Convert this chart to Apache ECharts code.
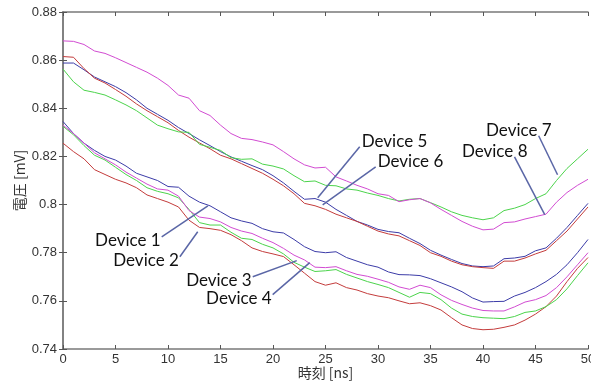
<!DOCTYPE html>
<html>
<head>
<meta charset="utf-8">
<script src="https://cdn.jsdelivr.net/npm/echarts@6/dist/echarts.min.js"></script>
<style>
  html, body { margin: 0; padding: 0; background: #fff; }
  #chart { width: 591px; height: 382px; }
</style>
</head>
<body>
<div id="chart"></div>
<script>
// time axis [ns], one reading per ns
const timeNs = [
  0, 1, 2, 3, 4, 5, 6, 7, 8, 9, 10, 11, 12, 13, 14, 15, 16, 17, 18, 19, 20,
  21, 22, 23, 24, 25, 26, 27, 28, 29, 30, 31, 32, 33, 34, 35, 36, 37, 38, 39, 40,
  41, 42, 43, 44, 45, 46, 47, 48, 49, 50
];

// lower group
const device1 = [
  0.8345, 0.8295, 0.8255, 0.8225, 0.820, 0.8185, 0.816, 0.813, 0.8115, 0.810, 0.8075,
  0.8072, 0.8035, 0.801, 0.7995, 0.797, 0.7945, 0.7932, 0.7922, 0.790, 0.7887,
  0.7882, 0.7855, 0.7825, 0.7805, 0.780, 0.7804, 0.778, 0.7765, 0.775, 0.774,
  0.772, 0.7709, 0.7708, 0.7705, 0.7692, 0.7675, 0.7658, 0.7638, 0.7612, 0.7595,
  0.7597, 0.7598, 0.762, 0.7635, 0.7655, 0.768, 0.771, 0.775, 0.780, 0.7855
];
const device2 = [
  0.8255, 0.822, 0.819, 0.8145, 0.8125, 0.8105, 0.809, 0.807, 0.804, 0.8025, 0.801,
  0.799, 0.7935, 0.7905, 0.790, 0.7893, 0.7875, 0.785, 0.782, 0.7805, 0.7795,
  0.7784, 0.775, 0.7715, 0.768, 0.7665, 0.7675, 0.7655, 0.7645, 0.763, 0.762,
  0.7613, 0.760, 0.7588, 0.7592, 0.758, 0.7562, 0.753, 0.750, 0.7485, 0.748,
  0.7482, 0.749, 0.750, 0.752, 0.7545, 0.7576, 0.762, 0.768, 0.7735, 0.778
];
const device3 = [
  0.8325, 0.829, 0.8245, 0.8205, 0.8185, 0.8155, 0.8125, 0.810, 0.807, 0.8055, 0.8045,
  0.8028, 0.798, 0.7925, 0.7915, 0.7915, 0.7885, 0.786, 0.7855, 0.7835, 0.782,
  0.7795, 0.776, 0.774, 0.7722, 0.7725, 0.773, 0.771, 0.7695, 0.768, 0.7668,
  0.7655, 0.7635, 0.7615, 0.7635, 0.763, 0.7605, 0.757, 0.7545, 0.7535, 0.753,
  0.7528, 0.7526, 0.7535, 0.7552, 0.7558, 0.7576, 0.7605, 0.765, 0.7705, 0.7758
];
const device4 = [
  0.833, 0.8295, 0.8255, 0.8215, 0.819, 0.8165, 0.8135, 0.811, 0.8085, 0.8065, 0.806,
  0.8035, 0.7975, 0.7948, 0.7942, 0.7928, 0.7905, 0.789, 0.788, 0.786, 0.7842,
  0.7818, 0.779, 0.777, 0.774, 0.7738, 0.7742, 0.7725, 0.771, 0.7702, 0.769,
  0.7677, 0.7658, 0.7648, 0.7665, 0.7655, 0.7625, 0.7602, 0.7585, 0.757, 0.756,
  0.7558, 0.7558, 0.7575, 0.7595, 0.7605, 0.7622, 0.7655, 0.770, 0.775, 0.780
];
// upper group
const device5 = [
  0.8588, 0.8588, 0.856, 0.853, 0.851, 0.849, 0.8465, 0.8435, 0.840, 0.8375, 0.835,
  0.832, 0.8295, 0.8269, 0.8245, 0.822, 0.8198, 0.818, 0.8162, 0.8145, 0.812,
  0.809, 0.8055, 0.8022, 0.8025, 0.801, 0.798, 0.7955, 0.793, 0.7915, 0.7897,
  0.7888, 0.7883, 0.786, 0.7838, 0.781, 0.779, 0.7772, 0.7755, 0.7745, 0.7742,
  0.7745, 0.7775, 0.7778, 0.7785, 0.7808, 0.782, 0.786, 0.7905, 0.7955, 0.8005
];
const device6 = [
  0.8615, 0.8612, 0.8565, 0.8525, 0.8505, 0.8478, 0.845, 0.8418, 0.839, 0.8365, 0.834,
  0.8308, 0.828, 0.8256, 0.8232, 0.8205, 0.819, 0.817, 0.815, 0.813, 0.8105,
  0.8078, 0.8045, 0.8005, 0.7995, 0.798, 0.796, 0.7945, 0.793, 0.791, 0.789,
  0.7878, 0.787, 0.785, 0.783, 0.780, 0.7785, 0.7765, 0.775, 0.7742, 0.7738,
  0.7735, 0.7765, 0.7765, 0.7778, 0.7795, 0.781, 0.785, 0.789, 0.794, 0.799
];
const device7 = [
  0.8563, 0.851, 0.8475, 0.8466, 0.8455, 0.8435, 0.8414, 0.839, 0.836, 0.833, 0.8315,
  0.8302, 0.830, 0.825, 0.8238, 0.8225, 0.8195, 0.8188, 0.819, 0.8168, 0.816,
  0.8148, 0.812, 0.8095, 0.8098, 0.808, 0.8078, 0.8065, 0.806, 0.8048, 0.8038,
  0.8025, 0.8015, 0.8022, 0.8025, 0.8008, 0.799, 0.797, 0.7955, 0.7945, 0.7937,
  0.7945, 0.7975, 0.7985, 0.800, 0.8025, 0.8045, 0.810, 0.815, 0.819, 0.823
];
const device8 = [
  0.868, 0.8678, 0.8665, 0.8638, 0.8628, 0.861, 0.859, 0.857, 0.855, 0.8525, 0.8495,
  0.8455, 0.8442, 0.839, 0.837, 0.833, 0.8295, 0.8275, 0.827, 0.826, 0.8248,
  0.822, 0.819, 0.8165, 0.8152, 0.8155, 0.8115, 0.8098, 0.808, 0.8065, 0.8045,
  0.8038, 0.8012, 0.802, 0.8025, 0.8007, 0.798, 0.7955, 0.793, 0.791, 0.7895,
  0.7898, 0.7925, 0.7928, 0.794, 0.795, 0.796, 0.801, 0.805, 0.808, 0.8105
];

const deviceNames = ['Device 1', 'Device 2', 'Device 3', 'Device 4',
                     'Device 5', 'Device 6', 'Device 7', 'Device 8'];
const deviceValues = [device1, device2, device3, device4, device5, device6, device7, device8];
const deviceColors = ['#3c3ca8', '#c43c3c', '#4cd44c', '#d24cd2',
                      '#3c3ca8', '#c43c3c', '#4cd44c', '#d24cd2'];

// callout: where the leader line starts (near the text) and the point it touches on the curve
const calloutStart = [
  [9.40, 0.7866], [11.13, 0.7783], [18.07, 0.7700], [19.97, 0.7626],
  [28.26, 0.8240], [29.78, 0.8157], [45.30, 0.8286], [43.00, 0.8198]
];
const calloutEnd = [
  [13.8, 0.7995], [12.83, 0.7887], [22.26, 0.7767], [23.5, 0.7759],
  [24.26, 0.8028], [24.73, 0.7999], [47.1, 0.8124], [45.88, 0.7958]
];

const yTicks = [0.74, 0.76, 0.78, 0.8, 0.82, 0.84, 0.86, 0.88];

const chart = echarts.init(document.getElementById('chart'));

const frame = { lineStyle: { color: '#7a7a7a', width: 1.5 } };
const tick = { show: true, inside: true, length: 4, lineStyle: { color: '#555', width: 1 } };
const tickFont = { color: '#333', fontSize: 13, fontFamily: 'Liberation Sans' };

const lineSeries = deviceNames.map((name, i) => ({
  name: name,
  type: 'line',
  showSymbol: false,
  silent: true,
  lineStyle: { color: deviceColors[i], width: 1 },
  data: timeNs.map((t, k) => [t, deviceValues[i][k]]),
  z: 2
}));

const calloutSeries = {
  type: 'custom',
  silent: true,
  z: 5,
  data: deviceNames.map((name, i) => [calloutStart[i][0], calloutStart[i][1],
                                      calloutEnd[i][0], calloutEnd[i][1], i]),
  renderItem: function (params, api) {
    const i = api.value(4);
    const p0 = api.coord([api.value(0), api.value(1)]);
    const p1 = api.coord([api.value(2), api.value(3)]);
    let tx, ty, align;
    if (i < 4) { tx = p0[0] - 1; ty = p0[1] + 4; align = 'right'; }
    else if (i < 6) { tx = p0[0] + 2; ty = p0[1] - 5; align = 'left'; }
    else { tx = p0[0] + 13; ty = p0[1] - 5; align = 'right'; }
    return {
      type: 'group',
      children: [
        {
          type: 'line',
          shape: { x1: p0[0], y1: p0[1], x2: p1[0], y2: p1[1] },
          style: { stroke: '#5a66a6', lineWidth: 1.5 }
        },
        {
          type: 'text',
          x: tx, y: ty,
          style: {
            text: deviceNames[i], fill: '#111', font: '17px Lato',
            align: align, verticalAlign: 'middle'
          }
        }
      ]
    };
  }
};

chart.setOption({
  animation: false,
  backgroundColor: '#fff',
  grid: { left: 63, right: 3, top: 12, bottom: 33, outerBoundsMode: 'none' },
  xAxis: [
    {
      type: 'value', min: 0, max: 50, interval: 5,
      name: '時刻 [ns]', nameLocation: 'middle', nameGap: 17, nameMoveOverlap: false,
      nameTextStyle: { color: '#333', fontSize: 14, fontFamily: 'Noto Sans CJK JP' },
      axisLine: frame, axisTick: tick,
      axisLabel: Object.assign({ margin: 4 }, tickFont),
      splitLine: { show: false }
    },
    {
      type: 'value', position: 'top', min: 0, max: 50, interval: 5,
      axisLine: frame, axisTick: tick, axisLabel: { show: false }, splitLine: { show: false }
    }
  ],
  yAxis: [
    {
      type: 'value', min: yTicks[0], max: yTicks[yTicks.length - 1], interval: 0.02,
      name: '電圧 [mV]', nameLocation: 'middle', nameGap: 36, nameRotate: 90, nameMoveOverlap: false,
      nameTextStyle: { color: '#333', fontSize: 14, fontFamily: 'Noto Sans CJK JP' },
      axisLine: frame, axisTick: tick,
      axisLabel: Object.assign({ margin: 6, formatter: v => String(+v.toFixed(2)) }, tickFont),
      splitLine: { show: false }
    },
    {
      type: 'value', position: 'right', min: 0.74, max: 0.88, interval: 0.02,
      axisLine: frame, axisTick: tick, axisLabel: { show: false }, splitLine: { show: false }
    }
  ],
  series: lineSeries.concat([calloutSeries])
});
</script>
</body>
</html>
